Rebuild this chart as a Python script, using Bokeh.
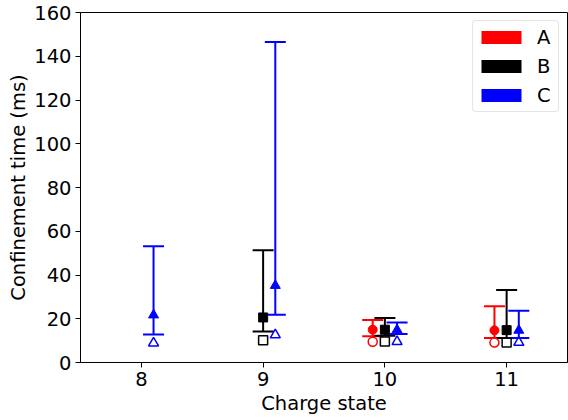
import numpy as np
from bokeh.plotting import figure
from bokeh.models import (ColumnDataSource, Whisker, TeeHead, FixedTicker,
                          Legend, LegendItem)
from bokeh.embed import file_html
from bokeh.resources import INLINE

# ---------------- data ----------------
charge_states = [8, 9, 10, 11]
x_tick_labels = ["8", "9", "10", "11"]
y_ticks = [0, 20, 40, 60, 80, 100, 120, 140, 160]

series_names = ["A", "B", "C"]
series_colors = ["red", "black", "blue"]

# series A
a_charge = [10, 11]
a_value = [15.0, 14.7]
a_lower = [12.0, 11.2]
a_upper = [19.4, 25.7]
a_open = [9.5, 9.1]

# series B
b_charge = [9, 10, 11]
b_value = [20.6, 15.0, 14.8]
b_lower = [14.2, 12.2, 11.2]
b_upper = [51.3, 20.3, 33.1]
b_open = [10.2, 9.6, 9.2]

# series C
c_charge = [8, 9, 10, 11]
c_value = [21.7, 35.2, 14.9, 14.7]
c_lower = [12.8, 21.8, 13.0, 11.2]
c_upper = [53.2, 146.5, 18.3, 23.7]
c_open = [8.9, 12.6, 9.5, 9.2]

# ---------------- styling ----------------
FONT = "DejaVu Sans"
FSIZE = "19.5px"
offsets = [-0.1, 0.0, 0.1]
markers = ["circle", "square", "triangle"]
marker_sizes = [9, 9, 10]

p = figure(width=568, height=420, x_range=(7.5, 11.5), y_range=(0, 160),
           output_backend="svg", toolbar_location=None,
           min_border_left=80, min_border_right=1, min_border_top=12,
           min_border_bottom=58)
p.background_fill_color = "white"
p.border_fill_color = "white"
p.outline_line_color = "black"
p.outline_line_width = 1
p.xgrid.visible = False
p.ygrid.visible = False

for ax in (p.xaxis[0], p.yaxis[0]):
    ax.axis_line_color = "black"
    ax.major_tick_line_color = "black"
    ax.minor_tick_line_color = None
    ax.major_tick_out = 5
    ax.major_tick_in = 0
    ax.major_label_text_font = FONT
    ax.major_label_text_font_size = FSIZE
    ax.major_label_text_color = "black"
    ax.axis_label_text_font = FONT
    ax.axis_label_text_font_size = FSIZE
    ax.axis_label_text_font_style = "normal"
    ax.axis_label_text_color = "black"

p.xaxis.ticker = FixedTicker(ticks=charge_states)
p.xaxis.major_label_overrides = {c: l for c, l in zip(charge_states, x_tick_labels)}
p.xaxis.axis_label = "Charge state"
p.xaxis.major_label_standoff = 4
p.xaxis.axis_label_standoff = 3

p.yaxis.ticker = FixedTicker(ticks=y_ticks)
p.yaxis.axis_label = "Confinement time (ms)"
p.yaxis.major_label_standoff = 4
p.yaxis.axis_label_standoff = 1

all_series = [
    (a_charge, a_value, a_lower, a_upper, a_open),
    (b_charge, b_value, b_lower, b_upper, b_open),
    (c_charge, c_value, c_lower, c_upper, c_open),
]

legend_items = []
for (chg, val, lo, up, opn), name, color, off, mk, ms in zip(
        all_series, series_names, series_colors, offsets, markers, marker_sizes):
    xs = np.array(chg, dtype=float) + off
    src = ColumnDataSource(dict(x=xs, value=val, lower=lo, upper=up, open=opn))
    w = Whisker(source=src, base="x", lower="lower", upper="upper",
                dimension="height", line_color=color, line_width=2,
                upper_head=TeeHead(size=21, line_color=color, line_width=2),
                lower_head=TeeHead(size=21, line_color=color, line_width=2))
    p.add_layout(w)
    p.scatter("x", "value", source=src, marker=mk, size=ms,
              fill_color=color, line_color=color, line_width=1)
    p.scatter("x", "open", source=src, marker=mk, size=ms,
              fill_color=None, line_color=color, line_width=1.5)
    # zero-area patch used only as the legend's rectangular handle
    patch = p.quad(left="x", right="x", bottom="value", top="value", source=src,
                   fill_color=color, line_color=None)
    legend_items.append(LegendItem(label=name, renderers=[patch]))

legend = Legend(items=legend_items, location="top_right", margin=8)
legend.glyph_width = 50
legend.glyph_height = 16
legend.label_height = 26
legend.label_width = 18
legend.label_standoff = 11
legend.spacing = 3
legend.padding = 3
legend.label_text_font = FONT
legend.label_text_font_size = FSIZE
legend.label_text_color = "black"
legend.border_line_color = "#cccccc"
legend.border_line_width = 1
legend.border_radius = 4
legend.background_fill_alpha = 0.8
p.add_layout(legend)

open("out.html", "w").write(file_html(p, INLINE))
